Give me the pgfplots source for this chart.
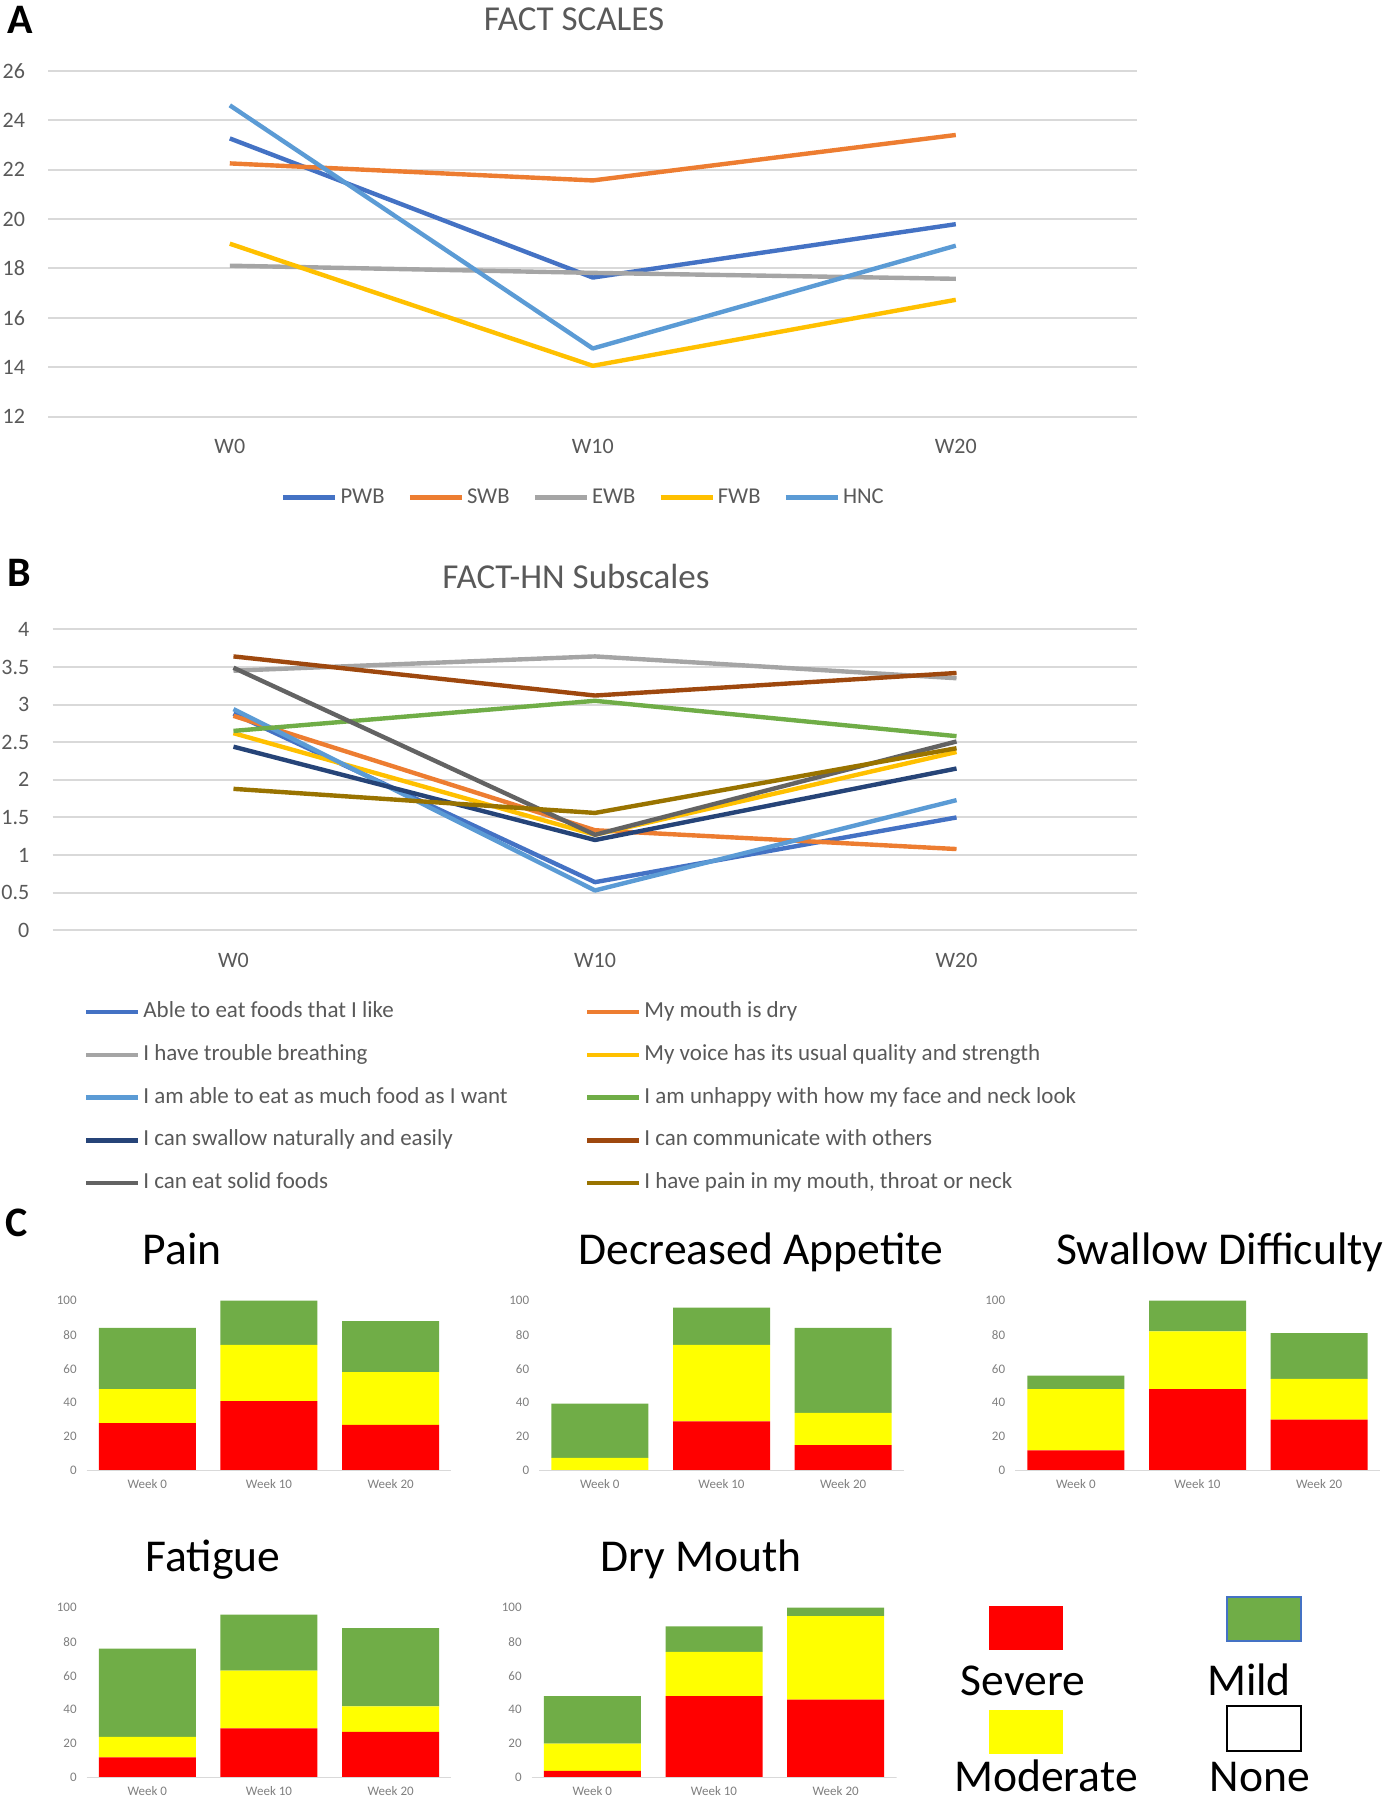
\documentclass[border=0pt]{standalone}
\usepackage{pgfplots}
\pgfplotsset{compat=1.18}
\usepackage{fontspec}
\setmainfont{Carlito}
\definecolor{txtgray}{HTML}{595959}
\definecolor{gridgray}{HTML}{D9D9D9}
\definecolor{cgray}{HTML}{7F7F7F}
\definecolor{c1}{HTML}{4472C4}
\definecolor{c2}{HTML}{ED7D31}
\definecolor{c3}{HTML}{A5A5A5}
\definecolor{c4}{HTML}{FFC000}
\definecolor{c5}{HTML}{5B9BD5}
\definecolor{c6}{HTML}{70AD47}
\definecolor{c7}{HTML}{264478}
\definecolor{c8}{HTML}{9E480E}
\definecolor{c9}{HTML}{636363}
\definecolor{c10}{HTML}{997300}
\definecolor{sevred}{HTML}{FF0000}
\definecolor{modyel}{HTML}{FFFF00}
\definecolor{mildgrn}{HTML}{70AD47}
\pgfplotsset{
  excelline/.style={
    scale only axis, anchor=south west,
    xmin=-0.5, xmax=2.5,
    xtick={0,1,2}, xticklabels={W0,W10,W20},
    ymajorgrids, grid style={draw=gridgray, line width=1pt},
    axis line style={draw=none}, tick style={draw=none}, major tick length=0pt,
    tick label style={font=\fontsize{11}{13}\selectfont, text=txtgray},
    /pgf/number format/assume math mode=true,
    yticklabel style={anchor=east, inner sep=0pt, xshift=-11.5pt},
    xticklabel style={anchor=center, inner sep=0pt, yshift=-15pt},
    every axis plot/.append style={line width=2.2pt, line join=round},
    legend image code/.code={\draw[#1] (0pt,0pt) -- (26pt,0pt);},
  },
  cbar/.style={
    scale only axis, anchor=south west,
    width=182.5pt, height=85pt,
    xmin=-0.5, xmax=2.5, ymin=0, ymax=100,
    ytick={0,20,...,100}, xtick={0,1,2}, xticklabels={Week 0,Week 10,Week 20},
    ybar stacked, bar width=48.5pt,
    axis line style={draw=none}, tick style={draw=none}, major tick length=0pt,
    tick label style={font=\fontsize{6.5}{8}\selectfont, text=cgray},
    /pgf/number format/assume math mode=true,
    yticklabel style={anchor=east, inner sep=0pt, xshift=-4.75pt},
    xticklabel style={anchor=center, inner sep=0pt, yshift=-6.8pt},
  },
}
\begin{document}
\begin{tikzpicture}
% ---------------- Panel A ----------------
\begin{axis}[excelline,
  at={(24.15pt,-208.35pt)}, width=544.5pt, height=173pt,
  ymin=12, ymax=26, ytick={12,14,...,26},
  legend columns=5,
  legend style={at={(0.4905,-0.234)}, anchor=center, draw=none, fill=none,
    inner sep=0pt, font=\fontsize{11.3}{13}\selectfont, text=txtgray,
    nodes={inner sep=0pt},
    /tikz/every odd column/.style={column sep=1.5pt},
    /tikz/every even column/.style={column sep=11.5pt}},
]
\addplot[c1] coordinates {(0,23.26) (1,17.63) (2,19.79)};
\addlegendentry{PWB}
\addplot[c2] coordinates {(0,22.25) (1,21.56) (2,23.40)};
\addlegendentry{SWB}
\addplot[c3] coordinates {(0,18.11) (1,17.82) (2,17.58)};
\addlegendentry{EWB}
\addplot[c4] coordinates {(0,19.00) (1,14.06) (2,16.73)};
\addlegendentry{FWB}
\addplot[c5] coordinates {(0,24.60) (1,14.76) (2,18.92)};
\addlegendentry{HNC}
\end{axis}
% ---------------- Panel B ----------------
\begin{axis}[excelline,
  at={(26.35pt,-465.15pt)}, width=542.3pt, height=150.5pt,
  ymin=0, ymax=4, ytick={0,0.5,...,4},
  yticklabel={\pgfmathprintnumber[fixed,precision=1]{\tick}},
  legend columns=2,
  legend style={at={(0.4908,-0.5555)}, anchor=center, draw=none, fill=none,
    inner sep=0pt, font=\fontsize{11.5}{13}\selectfont, text=txtgray,
    nodes={inner sep=0pt, text height=8pt, text depth=2.5pt},
    row sep=10.9pt,
    /tikz/every odd column/.style={column sep=1.5pt},
    /tikz/every even column/.style={column sep=0pt}},
  legend cell align=left,
]
\addplot[c1] coordinates {(0,2.88) (1,0.64) (2,1.50)};
\addlegendentry{\makebox[220.8pt][l]{Able to eat foods that I like}}
\addplot[c2] coordinates {(0,2.85) (1,1.33) (2,1.08)};
\addlegendentry{\makebox[220.8pt][l]{My mouth is dry}}
\addplot[c3] coordinates {(0,3.45) (1,3.64) (2,3.35)};
\addlegendentry{\makebox[220.8pt][l]{I have trouble breathing}}
\addplot[c4] coordinates {(0,2.62) (1,1.27) (2,2.37)};
\addlegendentry{\makebox[220.8pt][l]{My voice has its usual quality and strength}}
\addplot[c5] coordinates {(0,2.94) (1,0.53) (2,1.73)};
\addlegendentry{\makebox[220.8pt][l]{I am able to eat as much food as I want}}
\addplot[c6] coordinates {(0,2.65) (1,3.05) (2,2.58)};
\addlegendentry{\makebox[220.8pt][l]{I am unhappy with how my face and neck look}}
\addplot[c7] coordinates {(0,2.44) (1,1.20) (2,2.15)};
\addlegendentry{\makebox[220.8pt][l]{I can swallow naturally and easily}}
\addplot[c8] coordinates {(0,3.64) (1,3.12) (2,3.42)};
\addlegendentry{\makebox[220.8pt][l]{I can communicate with others}}
\addplot[c9] coordinates {(0,3.49) (1,1.27) (2,2.51)};
\addlegendentry{\makebox[220.8pt][l]{I can eat solid foods}}
\addplot[c10] coordinates {(0,1.88) (1,1.56) (2,2.42)};
\addlegendentry{\makebox[220.8pt][l]{I have pain in my mouth, throat or neck}}
\end{axis}
% ---------------- Panel C ----------------
% Pain
\begin{axis}[cbar, at={(43.25pt,-735.35pt)}]
\draw[gridgray, line width=1pt] (rel axis cs:0,0) -- (rel axis cs:1,0);
\addplot[fill=sevred, draw=none] coordinates {(0,28) (1,41) (2,27)};
\addplot[fill=modyel, draw=none] coordinates {(0,20) (1,33) (2,31)};
\addplot[fill=mildgrn, draw=none] coordinates {(0,36) (1,26) (2,30)};
\end{axis}
% Decreased Appetite
\begin{axis}[cbar, at={(269.5pt,-735.35pt)}]
\draw[gridgray, line width=1pt] (rel axis cs:0,0) -- (rel axis cs:1,0);
\addplot[fill=sevred, draw=none] coordinates {(0,0) (1,29) (2,15)};
\addplot[fill=modyel, draw=none] coordinates {(0,7.5) (1,45) (2,19)};
\addplot[fill=mildgrn, draw=none] coordinates {(0,32) (1,22) (2,50)};
\end{axis}
% Swallow Difficulty
\begin{axis}[cbar, at={(507.5pt,-735.35pt)}]
\draw[gridgray, line width=1pt] (rel axis cs:0,0) -- (rel axis cs:1,0);
\addplot[fill=sevred, draw=none] coordinates {(0,12) (1,48) (2,30)};
\addplot[fill=modyel, draw=none] coordinates {(0,36) (1,34) (2,24)};
\addplot[fill=mildgrn, draw=none] coordinates {(0,8) (1,18) (2,27)};
\end{axis}
% Fatigue
\begin{axis}[cbar, at={(43.25pt,-888.85pt)}]
\draw[gridgray, line width=1pt] (rel axis cs:0,0) -- (rel axis cs:1,0);
\addplot[fill=sevred, draw=none] coordinates {(0,12) (1,29) (2,27)};
\addplot[fill=modyel, draw=none] coordinates {(0,12) (1,34) (2,15)};
\addplot[fill=mildgrn, draw=none] coordinates {(0,52) (1,33) (2,46)};
\end{axis}
% Dry Mouth
\begin{axis}[cbar, at={(265.75pt,-888.85pt)}]
\draw[gridgray, line width=1pt] (rel axis cs:0,0) -- (rel axis cs:1,0);
\addplot[fill=sevred, draw=none] coordinates {(0,4) (1,48) (2,46)};
\addplot[fill=modyel, draw=none] coordinates {(0,16) (1,26) (2,49)};
\addplot[fill=mildgrn, draw=none] coordinates {(0,28) (1,15) (2,5)};
\end{axis}
% ---------------- Texts ----------------
\node[anchor=base west, inner sep=0pt, font=\fontsize{21}{24}\selectfont\bfseries] at (3.7pt,-16.7pt) {A};
\node[anchor=base west, inner sep=0pt, font=\fontsize{21}{24}\selectfont\bfseries] at (3.7pt,-293.3pt) {B};
\node[anchor=base west, inner sep=0pt, font=\fontsize{21}{24}\selectfont\bfseries] at (2.5pt,-618.3pt) {C};
\node[anchor=base, inner sep=0pt, text=txtgray, font=\fontsize{17.5}{20}\selectfont] at (287pt,-15pt) {FACT SCALES};
\node[anchor=base, inner sep=0pt, text=txtgray, font=\fontsize{17.5}{20}\selectfont] at (288pt,-294.2pt) {FACT-HN Subscales};
\begin{scope}[every node/.style={anchor=base, inner sep=0pt, font=\fontsize{22.8}{26}\selectfont}]
\node at (91pt,-632pt) {Pain};
\node at (380.5pt,-632pt) {Decreased Appetite};
\node at (610pt,-632pt) {Swallow Difficulty};
\node at (106.5pt,-785.8pt) {Fatigue};
\node at (350.5pt,-785.8pt) {Dry Mouth};
\node at (511.5pt,-847.5pt) {Severe};
\node at (624.5pt,-847.5pt) {Mild};
\node at (523pt,-895.5pt) {Moderate};
\node at (630pt,-895.5pt) {None};
\end{scope}
\fill[sevred] (494.5pt,-803pt) rectangle (531.5pt,-825pt);
\filldraw[fill=mildgrn, draw=c1, line width=0.8pt] (613.5pt,-798.5pt) rectangle (650.5pt,-820.5pt);
\fill[modyel] (494.5pt,-855pt) rectangle (531.5pt,-877pt);
\draw[black, line width=0.9pt] (613.5pt,-853pt) rectangle (650.5pt,-875.5pt);
\pgfresetboundingbox
\path[use as bounding box] (0pt,0pt) rectangle (694.5pt,-900pt);
\end{tikzpicture}
\end{document}
